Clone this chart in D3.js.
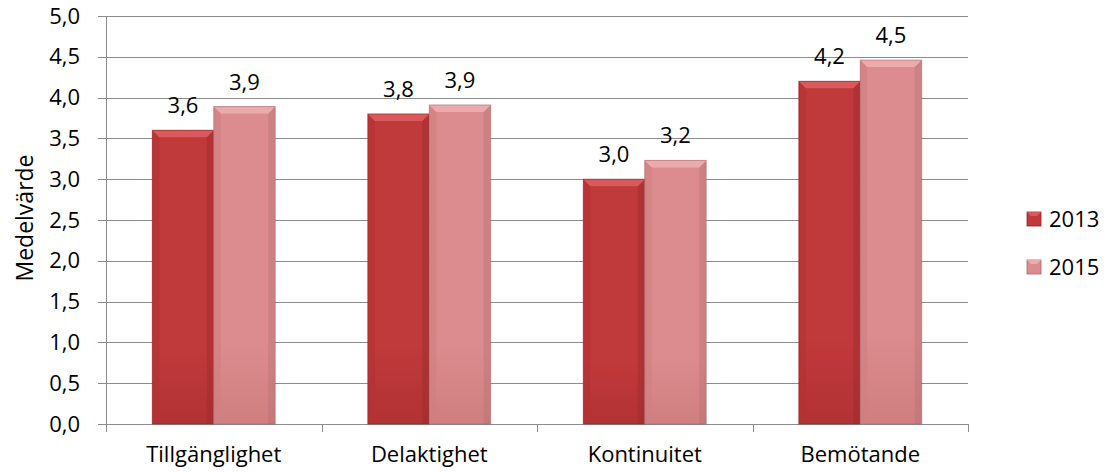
<!DOCTYPE html>
<html lang="sv">
<head>
  <meta charset="UTF-8">
  <title>Medelvärde 2013 / 2015</title>
  <script src="https://cdn.jsdelivr.net/npm/d3@7/dist/d3.min.js"></script>
  <style>
    body { margin: 0; background: #fff; }
    svg text { font-family: "Open Sans", "Noto Sans", sans-serif; fill: #000; }
  </style>
</head>
<body>
<svg width="1114" height="472"></svg>
<script>
  // data
  var categories = ["Tillgänglighet", "Delaktighet", "Kontinuitet", "Bemötande"];
  var years = ["2013", "2015"];
  var values2013 = [3.6, 3.8, 3.0, 4.2];
  var values2015 = [3.89, 3.91, 3.23, 4.46];
  var yTicks = [0, 0.5, 1, 1.5, 2, 2.5, 3, 3.5, 4, 4.5, 5];

  var series = [values2013, values2015];
  var colors = [
    { main: "#C0393B", light: "#D85A5B", side: "#B23234", dark: "#8E2526" },
    { main: "#DC8C8E", light: "#EBABAC", side: "#D07F81", dark: "#A86A6C" }
  ];
  var fontSize = "22px";

  var margin = { top: 16, right: 146, bottom: 48, left: 106 };
  var width = 1114 - margin.left - margin.right;
  var height = 472 - margin.top - margin.bottom;

  var svg = d3.select("svg");
  var defs = svg.append("defs");
  colors.forEach(function(c, i) {
    var v = defs.append("linearGradient").attr("id", "vgrad" + i)
      .attr("x1", 0).attr("x2", 0).attr("y1", 0).attr("y2", 1);
    v.append("stop").attr("offset", "0%").attr("stop-color", c.main);
    v.append("stop").attr("offset", "75%").attr("stop-color", c.main);
    v.append("stop").attr("offset", "100%").attr("stop-color", c.side);
  });

  var fmt = function(d) { return d3.format(".1f")(d).replace(".", ","); };

  var chart = svg.append("g")
    .attr("transform", "translate(" + margin.left + "," + margin.top + ")");

  var x0 = d3.scaleBand().domain(categories).range([0, width]);
  var groupW = x0.step() * 0.57;
  var x1 = d3.scaleBand().domain(years).range([0, groupW]);
  var y = d3.scaleLinear().domain([0, 5]).range([height, 0]);

  // gridlines
  chart.append("g")
    .selectAll("line")
    .data(yTicks)
    .enter().append("line")
    .attr("x1", -8).attr("x2", width)
    .attr("y1", function(d) { return Math.round(y(d)) + 0.5; })
    .attr("y2", function(d) { return Math.round(y(d)) + 0.5; })
    .attr("stroke", "#8c8c8c").attr("stroke-width", 1);

  // y axis
  var yAxis = d3.axisLeft(y).tickValues(yTicks).tickSize(0).tickPadding(26).tickFormat(fmt);
  var yg = chart.append("g").call(yAxis);
  yg.select(".domain").remove();
  yg.selectAll("text").style("font-size", fontSize);

  chart.append("line")
    .attr("x1", 0.5).attr("x2", 0.5).attr("y1", 0).attr("y2", height + 8)
    .attr("stroke", "#8c8c8c");

  // x axis
  var xg = chart.append("g").attr("transform", "translate(0," + height + ")")
    .call(d3.axisBottom(x0).tickSize(0).tickPadding(22));
  xg.select(".domain").remove();
  xg.selectAll("text").style("font-size", fontSize);
  chart.append("g").selectAll("line")
    .data(categories)
    .enter().append("line")
    .attr("x1", function(d, i) { return Math.round(x0.step() * (i + 1)) + 0.5; })
    .attr("x2", function(d, i) { return Math.round(x0.step() * (i + 1)) + 0.5; })
    .attr("y1", height).attr("y2", height + 8)
    .attr("stroke", "#8c8c8c");

  // bars
  var bevel = 7;
  series.forEach(function(vals, si) {
    var c = colors[si];
    var bars = chart.append("g").selectAll("g")
      .data(vals)
      .enter().append("g")
      .attr("transform", function(d, i) {
        return "translate(" + (x0(categories[i]) + (x0.bandwidth() - groupW) / 2 + x1(years[si])) + ",0)";
      });
    bars.append("rect")
      .attr("y", function(d) { return y(d); })
      .attr("width", x1.bandwidth())
      .attr("height", function(d) { return height - y(d); })
      .attr("fill", "url(#vgrad" + si + ")");
    // side bevels
    bars.append("path")
      .attr("d", function(d) {
        var t = y(d);
        return "M0," + t + "L" + bevel + "," + (t + bevel) + "L" + bevel + "," + height + "L0," + height + "Z";
      })
      .attr("fill", c.side).attr("opacity", 0.6);
    bars.append("path")
      .attr("d", function(d) {
        var w = x1.bandwidth(), t = y(d);
        return "M" + w + "," + t + "L" + (w - bevel) + "," + (t + bevel) + "L" + (w - bevel) + "," + height + "L" + w + "," + height + "Z";
      })
      .attr("fill", c.dark).attr("opacity", 0.3);
    // top bevel
    bars.append("path")
      .attr("d", function(d) {
        var w = x1.bandwidth(), t = y(d);
        return "M0," + t + "L" + w + "," + t + "L" + (w - bevel) + "," + (t + bevel) + "L" + bevel + "," + (t + bevel) + "Z";
      })
      .attr("fill", c.light);
    bars.append("rect")
      .attr("y", function(d) { return y(d); })
      .attr("width", x1.bandwidth())
      .attr("height", function(d) { return height - y(d); })
      .attr("fill", "none")
      .attr("stroke", c.dark).attr("stroke-width", 1).attr("stroke-opacity", 0.6);
    bars.append("text")
      .attr("x", x1.bandwidth() / 2)
      .attr("y", function(d) { return y(d) - 17; })
      .attr("text-anchor", "middle")
      .style("font-size", fontSize)
      .text(fmt);
  });

  // y label
  svg.append("text")
    .attr("transform", "translate(33," + 218 + ") rotate(-90)")
    .attr("text-anchor", "middle")
    .style("font-size", "23px")
    .text("Medelvärde");

  // legend
  var legend = svg.append("g").attr("transform", "translate(1027,212)");
  years.forEach(function(yr, i) {
    var g = legend.append("g").attr("transform", "translate(0," + (i * 48) + ")");
    g.append("rect").attr("width", 14).attr("height", 14)
      .attr("fill", colors[i].main).attr("stroke", colors[i].dark).attr("stroke-width", 0.8);
    g.append("path").attr("d", "M0,0L14,0L10,4L4,4Z").attr("fill", colors[i].light);
    g.append("text").attr("x", 22).attr("y", 15).style("font-size", fontSize).text(yr);
  });
</script>
</body>
</html>
